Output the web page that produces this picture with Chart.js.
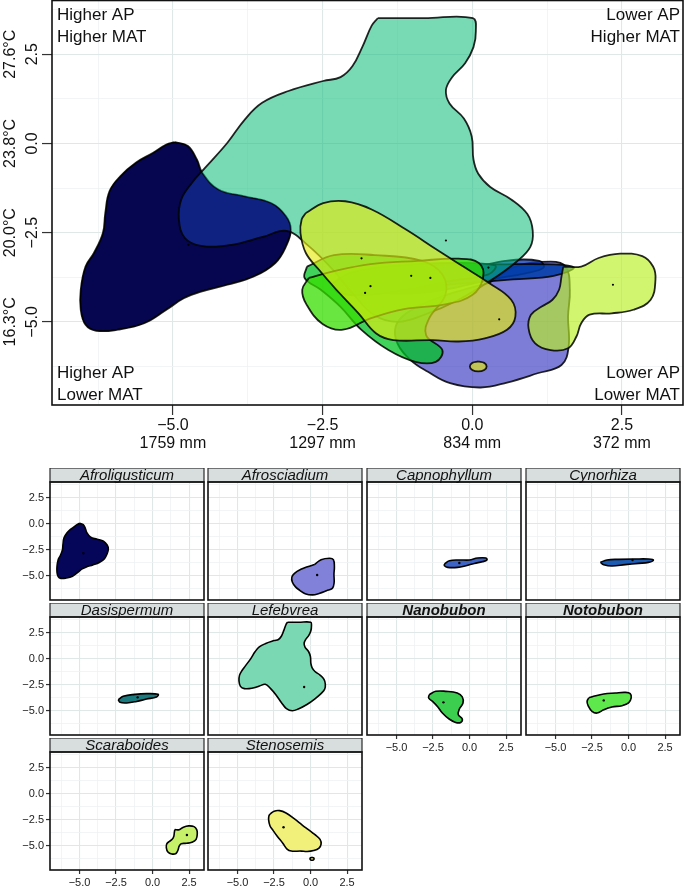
<!DOCTYPE html>
<html>
<head>
<meta charset="utf-8">
<script src="https://cdn.jsdelivr.net/npm/chart.js@4.4.0/dist/chart.umd.min.js"></script>
<style>
  html, body { margin: 0; padding: 0; background: #fff; }
  #wrap { position: relative; width: 685px; height: 888px; overflow: hidden; background: #fff; }
  #wrap canvas { position: absolute; }
</style>
</head>
<body>
<div id="wrap"></div>
<script>
const FONT = '"Liberation Sans", Arial, Helvetica, sans-serif';

const genera = ['Afroligusticum', 'Afrosciadium', 'Capnophyllum', 'Cynorhiza', 'Dasispermum',
  'Lefebvrea', 'Nanobubon', 'Notobubon', 'Scaraboides', 'Stenosemis'];
const boldGenera = ['Nanobubon', 'Notobubon'];

// niche outlines, [PC1 (AP), PC2 (MAT)]
const afroligusticum = [[-4.97, 0.04], [-4.75, -0.07], [-4.6, -0.45], [-4.51, -0.82], [-4.24, -1.29], [-3.8, -1.48],
  [-3.36, -1.67], [-3.11, -2.04], [-3.03, -2.42], [-3.11, -2.88], [-3.29, -3.35], [-3.65, -3.73], [-4.09, -3.96],
  [-4.53, -4.15], [-4.82, -4.34], [-5.11, -4.66], [-5.48, -5.04], [-5.92, -5.22], [-6.28, -5.25], [-6.46, -5.08],
  [-6.54, -4.66], [-6.54, -4.1], [-6.46, -3.45], [-6.32, -3.07], [-6.17, -2.51], [-6.13, -1.95], [-6.06, -1.34],
  [-5.88, -0.92], [-5.62, -0.54], [-5.33, -0.26], [-5.11, -0.03]];
const afrosciadium = [[0.28, -3.91], [0.72, -3.45], [1.31, -3.31], [1.56, -3.45], [1.63, -4.1], [1.6, -4.85],
  [1.61, -5.69], [1.49, -6.21], [1.09, -6.44], [0.58, -6.7], [0.14, -6.84], [-0.37, -6.72], [-0.74, -6.4],
  [-1.03, -6.07], [-1.25, -5.6], [-1.28, -5.13], [-1.1, -4.76], [-0.66, -4.38], [-0.15, -4.1]];
const capnophyllum = [[-1.72, -3.87], [-1.38, -3.55], [-0.7, -3.48], [-0.02, -3.48], [0.55, -3.29], [1.12, -3.29],
  [1.19, -3.48], [0.89, -3.64], [0.32, -3.81], [-0.25, -4.03], [-0.82, -4.19], [-1.5, -4.19], [-1.72, -4.03]];
const cynorhiza = [[-1.93, -3.71], [-1.48, -3.48], [-0.68, -3.42], [0.45, -3.39], [1.36, -3.39], [1.7, -3.48],
  [1.36, -3.71], [0.68, -3.81], [-0.23, -3.93], [-1.14, -4.06], [-1.7, -3.93]];
const dasispermum = [[-2.35, -3.93], [-2.01, -3.61], [-1.21, -3.42], [-0.41, -3.35], [0.38, -3.42], [0.27, -3.67],
  [-0.41, -3.87], [-1.09, -4.1], [-1.77, -4.25], [-2.23, -4.19]];
const lefebvrea = [[-1.58, 3.51], [-0.8, 3.51], [0.01, 3.51], [0.06, 3.15], [0.02, 2.7], [-0.12, 2.25], [-0.34, 1.85],
  [-0.44, 1.5], [-0.38, 1.12], [-0.14, 0.7], [-0.01, 0.2], [0.02, -0.45], [0.1, -0.85], [0.3, -1.22], [0.65, -1.57],
  [0.92, -1.98], [1.01, -2.45], [0.97, -2.9], [0.75, -3.3], [0.3, -3.85], [-0.25, -4.4], [-0.8, -4.8], [-1.25, -5.0],
  [-1.65, -4.8], [-2.0, -4.2], [-2.35, -3.5], [-2.75, -2.85], [-3.1, -2.45], [-3.5, -2.62], [-4.02, -2.84],
  [-4.53, -2.87], [-4.8, -2.65], [-4.9, -2.13], [-4.86, -1.57], [-4.68, -1.1], [-4.46, -0.68], [-4.09, 0.02],
  [-3.8, 0.67], [-3.51, 1.14], [-3.07, 1.47], [-2.49, 1.75], [-2.2, 1.86], [-2.0, 2.17], [-1.83, 2.73], [-1.68, 3.3]];
const nanobubon = [[-2.76, -3.45], [-2.31, -3.13], [-1.63, -3.13], [-0.84, -3.29], [-0.5, -3.67], [-0.45, -4.25],
  [-0.72, -4.9], [-0.77, -5.38], [-0.5, -5.79], [-0.61, -6.12], [-0.95, -6.12], [-1.4, -5.79], [-1.86, -5.21],
  [-2.2, -4.58], [-2.53, -4.1], [-2.8, -3.77]];
const notobubon = [[-2.73, -3.77], [-2.39, -3.61], [-1.7, -3.38], [-0.91, -3.29], [-0.23, -3.23], [0.11, -3.35],
  [0.18, -3.77], [0.0, -4.25], [-0.45, -4.51], [-1.14, -4.64], [-1.7, -4.9], [-2.16, -5.22], [-2.5, -5.06],
  [-2.77, -4.51], [-2.84, -4.1]];
const scaraboides = [[1.52, -3.45], [1.82, -3.45], [2.11, -3.21], [2.47, -3.09], [2.84, -3.16], [3.02, -3.45],
  [3.06, -3.82], [2.98, -4.38], [2.69, -4.66], [2.33, -4.76], [1.96, -4.8], [1.82, -5.04], [1.74, -5.41],
  [1.6, -5.74], [1.31, -5.79], [1.05, -5.6], [0.94, -5.18], [0.98, -4.8], [1.16, -4.57], [1.34, -4.38],
  [1.45, -4.1], [1.49, -3.73]];
const stenosemis = [[-2.78, -1.95], [-2.49, -1.67], [-2.12, -1.62], [-1.68, -1.85], [-1.1, -2.42], [-0.59, -2.98],
  [-0.15, -3.45], [0.28, -3.91], [0.65, -4.38], [0.72, -4.85], [0.58, -5.22], [0.21, -5.46], [-0.23, -5.55],
  [-0.66, -5.51], [-1.32, -5.51], [-1.61, -5.32], [-1.9, -4.76], [-2.27, -4.1], [-2.56, -3.54], [-2.78, -3.07],
  [-2.87, -2.51], [-2.85, -2.13]];
const stenosemisIsland = [[0.1, -6.11], [0.2, -6.15], [0.24, -6.25], [0.2, -6.35], [0.1, -6.39], [0.0, -6.35],
  [-0.04, -6.25], [0.0, -6.15]];

const shapes = [afroligusticum, afrosciadium, capnophyllum, cynorhiza, dasispermum,
  lefebvrea, nanobubon, notobubon, scaraboides, stenosemis];

const centroidX = [-4.74, 0.45, -0.70, 0.27, -1.02, -0.44, -1.79, -1.70, 2.35, -1.85];
const centroidY = [-2.84, -4.93, -3.77, -3.48, -3.71, -2.72, -4.19, -4.00, -3.96, -3.22];

const panelFill = ['#05055a', '#8181da', '#3e63c6', '#1d5cb3', '#1b7a7e',
  '#7ad9b2', '#3ccf4f', '#5fe84c', '#c7f06a', '#f0f07a'];
const mainFill = ['rgba(5,5,80,1)', 'rgba(38,38,188,0.6)', 'rgba(18,61,186,0.8)', 'rgba(0,61,167,0.85)',
  'rgba(0,98,103,0.85)', 'rgba(10,188,121,0.55)', 'rgba(0,195,35,0.75)', 'rgba(55,222,0,0.75)',
  'rgba(186,240,35,0.65)', 'rgba(229,235,17,0.65)'];
// where Lefebvrea lies over Afroligusticum the picture turns royal blue
const overlapColor = '#0f2282';

const xMin = -7.02, xMax = 3.52, yMin = -7.33, yMax = 4.02;
const xTickValues = [-6.25, -5, -3.75, -2.5, -1.25, 0, 1.25, 2.5];
const yTickValues = [3.75, 2.5, 1.25, 0, -1.25, -2.5, -3.75, -5, -6.25];
const xMajorValues = [-5, -2.5, 0, 2.5];
const apLabels = ['1759 mm', '1297 mm', '834 mm', '372 mm'];
const yMajorValues = [2.5, 0, -2.5, -5];
const matLabels = ['27.6°C', '23.8°C', '20.0°C', '16.3°C'];
const cornerTopLeft = ['Higher AP', 'Higher MAT'];
const cornerTopRight = ['Lower AP', 'Higher MAT'];
const cornerBottomLeft = ['Higher AP', 'Lower MAT'];
const cornerBottomRight = ['Lower AP', 'Lower MAT'];

const isMajor = v => Math.abs(v / 2.5 - Math.round(v / 2.5)) < 1e-6;
const fmt = v => (v < 0 ? '\u2212' : '') + Math.abs(v).toFixed(1);
const closed = shape => shape.concat([shape[0]]).map(p => ({ x: p[0], y: p[1] }));

function makeCanvas(left, top, w, h) {
  const c = document.createElement('canvas');
  c.width = w; c.height = h;
  c.style.left = left + 'px'; c.style.top = top + 'px';
  c.style.width = w + 'px'; c.style.height = h + 'px';
  document.getElementById('wrap').appendChild(c);
  return c;
}

function shapeDataset(shape, fill, order, line, lw) {
  return { data: closed(shape), backgroundColor: fill, borderColor: line, borderWidth: lw,
    fill: 'shape', tension: 0.4, pointRadius: 0, order };
}

function gridOpts(showTicks, tickLen) {
  return {
    color: c => (c.tick && isMajor(c.tick.value)) ? '#e0e7e7' : '#edf2f2',
    lineWidth: c => (c.tick && isMajor(c.tick.value)) ? 1.1 : 0.8,
    drawTicks: showTicks, tickLength: tickLen, tickWidth: 1.2,
    tickColor: c => (c.tick && isMajor(c.tick.value)) ? '#333' : 'rgba(0,0,0,0)'
  };
}

// ---------- main panel ----------
const mainDatasets = [];
genera.forEach((g, i) => {
  mainDatasets.push(shapeDataset(shapes[i], mainFill[i], 20 - i, 'rgba(0,0,0,0.85)', 1.8));
});
mainDatasets.push(shapeDataset(stenosemisIsland, mainFill[9], 10.5, 'rgba(0,0,0,0.85)', 1.8));
mainDatasets.push({ data: centroidX.map((x, i) => ({ x, y: centroidY[i] })), showLine: false,
  pointRadius: 1.1, pointBackgroundColor: '#000', pointBorderWidth: 0, order: 0 });

const afroIdx = genera.indexOf('Afroligusticum');
const lefIdx = genera.indexOf('Lefebvrea');

const overlapTint = {
  id: 'overlapTint',
  beforeDatasetDraw(chart, args) {
    if (args.index !== lefIdx) return;
    const under = chart.getDatasetMeta(afroIdx).dataset;
    const over = args.meta.dataset;
    if (!under || !over || typeof under.path !== 'function') return;
    const { ctx, chartArea: a } = chart;
    ctx.save();
    ctx.beginPath(); ctx.rect(a.left, a.top, a.right - a.left, a.bottom - a.top); ctx.clip();
    ctx.beginPath(); under.path(ctx); ctx.closePath(); ctx.clip();
    ctx.beginPath(); over.path(ctx); ctx.closePath();
    ctx.fillStyle = overlapColor; ctx.fill();
    ctx.beginPath(); under.path(ctx);
    ctx.strokeStyle = 'rgba(0,0,0,0.85)'; ctx.lineWidth = 1.8; ctx.stroke();
    ctx.restore();
  }
};

const mainDecor = {
  id: 'mainDecor',
  afterDraw(chart) {
    const { ctx, chartArea: a, scales } = chart;
    ctx.save();
    ctx.strokeStyle = '#111'; ctx.lineWidth = 1.6;
    ctx.strokeRect(a.left, a.top + 0.5, a.right - a.left, a.bottom - a.top - 0.5);
    // corner notes
    ctx.fillStyle = '#111';
    ctx.font = '17px ' + FONT;
    ctx.textBaseline = 'alphabetic';
    ctx.textAlign = 'left';
    ctx.fillText(cornerTopLeft[0], a.left + 5, 20);
    ctx.fillText(cornerTopLeft[1], a.left + 5, 42);
    ctx.fillText(cornerBottomLeft[0], a.left + 5, 378);
    ctx.fillText(cornerBottomLeft[1], a.left + 5, 400);
    ctx.textAlign = 'right';
    ctx.fillText(cornerTopRight[0], a.right - 3, 20);
    ctx.fillText(cornerTopRight[1], a.right - 3, 42);
    ctx.fillText(cornerBottomRight[0], a.right - 3, 378);
    ctx.fillText(cornerBottomRight[1], a.right - 3, 400);
    // rotated y labels
    ctx.font = '16px ' + FONT;
    ctx.textAlign = 'center';
    yMajorValues.forEach((v, i) => {
      const py = scales.y.getPixelForValue(v);
      ctx.save(); ctx.translate(37, py); ctx.rotate(-Math.PI / 2);
      ctx.fillText(fmt(v), 0, 0); ctx.restore();
      ctx.save(); ctx.translate(15, py); ctx.rotate(-Math.PI / 2);
      ctx.fillText(matLabels[i], 0, 0); ctx.restore();
    });
    ctx.restore();
  }
};

new Chart(makeCanvas(0, 0, 685, 460), {
  type: 'line',
  data: { datasets: mainDatasets },
  options: {
    responsive: false, animation: false, events: [],
    layout: { autoPadding: false, padding: { top: 0, right: 2, left: 0, bottom: 0 } },
    plugins: { legend: { display: false }, tooltip: { enabled: false } },
    scales: {
      x: {
        type: 'linear', min: xMin, max: xMax,
        afterBuildTicks: s => { s.ticks = xTickValues.map(v => ({ value: v })); },
        afterFit: s => { s.height = 55; },
        grid: gridOpts(true, 10), border: { display: false },
        ticks: { autoSkip: false, maxRotation: 0, padding: 1, color: '#111',
          font: { family: FONT, size: 16, lineHeight: 1.15 },
          callback: v => isMajor(v) ? [fmt(v), apLabels[xMajorValues.indexOf(v)]] : '' }
      },
      y: {
        type: 'linear', min: yMin, max: yMax,
        afterBuildTicks: s => { s.ticks = yTickValues.map(v => ({ value: v })); },
        afterFit: s => { s.width = 52; },
        grid: gridOpts(true, 10), border: { display: false },
        ticks: { display: false }
      }
    }
  },
  plugins: [overlapTint, mainDecor]
});

// ---------- small panels ----------
const colLeft = [50, 208, 367, 526];
const stripTop = [468, 603, 738];
const PW = 154, PH = 118, STRIP = 14;
const xLabelled = ['Nanobubon', 'Notobubon', 'Scaraboides', 'Stenosemis'];

function stripPlugin(title, bold) {
  return {
    id: 'strip',
    afterDraw(chart) {
      const { ctx, chartArea: a } = chart;
      ctx.save();
      ctx.fillStyle = '#d8dede';
      ctx.fillRect(a.left, a.top - STRIP, a.right - a.left, STRIP);
      ctx.strokeStyle = '#2b2b2b'; ctx.lineWidth = 1.2;
      ctx.strokeRect(a.left, a.top - STRIP, a.right - a.left, STRIP);
      ctx.fillStyle = '#111';
      ctx.font = (bold ? 'italic bold ' : 'italic ') + '15px ' + FONT;
      ctx.textAlign = 'center'; ctx.textBaseline = 'alphabetic';
      ctx.fillText(title, (a.left + a.right) / 2, a.top - 2);
      ctx.strokeStyle = '#111'; ctx.lineWidth = 1.6;
      ctx.strokeRect(a.left, a.top, a.right - a.left, a.bottom - a.top);
      ctx.restore();
    }
  };
}

genera.forEach((g, i) => {
  const col = i % 4, row = Math.floor(i / 4);
  const showX = xLabelled.includes(g);
  const showY = col === 0;
  const ds = [shapeDataset(shapes[i], panelFill[i], 2, '#000', 1.6)];
  if (g === 'Stenosemis') ds.push(shapeDataset(stenosemisIsland, panelFill[i], 1.5, '#000', 1.6));
  ds.push({ data: [{ x: centroidX[i], y: centroidY[i] }], showLine: false,
    pointRadius: 1.2, pointBackgroundColor: '#000', pointBorderWidth: 0, order: 0 });

  new Chart(makeCanvas(colLeft[col] - 50, stripTop[row], 50 + PW + 3, STRIP + PH + 22), {
    type: 'line',
    data: { datasets: ds },
    options: {
      responsive: false, animation: false, events: [],
      layout: { autoPadding: false, padding: { top: STRIP, right: 3, left: 0, bottom: 0 } },
      plugins: { legend: { display: false }, tooltip: { enabled: false } },
      scales: {
        x: {
          type: 'linear', min: xMin, max: xMax,
          afterBuildTicks: s => { s.ticks = xTickValues.map(v => ({ value: v })); },
          afterFit: s => { s.height = 22; },
          grid: gridOpts(showX, 4), border: { display: false },
          ticks: { autoSkip: false, maxRotation: 0, padding: 2, color: '#222',
            font: { family: FONT, size: 11 },
            callback: v => (showX && isMajor(v)) ? fmt(v) : '' }
        },
        y: {
          type: 'linear', min: yMin, max: yMax,
          afterBuildTicks: s => { s.ticks = yTickValues.map(v => ({ value: v })); },
          afterFit: s => { s.width = 50; },
          grid: gridOpts(showY, 4), border: { display: false },
          ticks: { autoSkip: false, padding: 2, color: '#222',
            font: { family: FONT, size: 11 },
            callback: v => (showY && isMajor(v)) ? fmt(v) : '' }
        }
      }
    },
    plugins: [stripPlugin(g, boldGenera.includes(g))]
  });
});
</script>
</body>
</html>
